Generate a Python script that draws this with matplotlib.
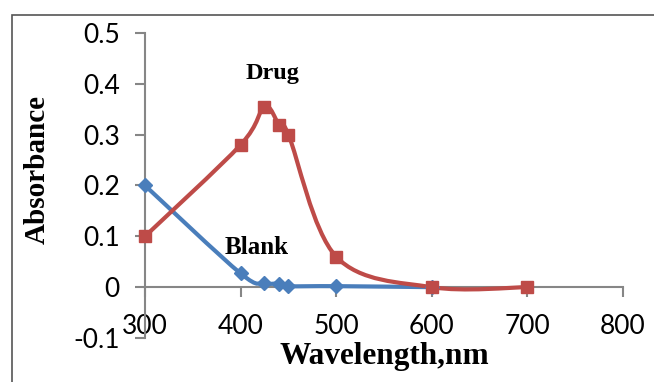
import matplotlib.pyplot as plt
import numpy as np
from matplotlib.path import Path
from matplotlib.patches import PathPatch, Rectangle

# data
drug_x = [300, 400, 425, 440, 450, 500, 600, 700]
drug_y = [0.10, 0.28, 0.355, 0.32, 0.30, 0.06, 0.0, 0.0]
blank_x = [300, 400, 425, 440, 450, 500, 600]
blank_y = [0.20, 0.027, 0.008, 0.007, 0.002, 0.002, 0.0]

x_ticks = [300, 400, 500, 600, 700, 800]
y_ticks = [-0.1, 0, 0.1, 0.2, 0.3, 0.4, 0.5]

blue = '#4A7EBB'
red = '#BE4B48'
grey = '#868686'


def smooth_path(xs, ys):
    # Excel-like smoothed line: cubic bezier through points (Catmull-Rom)
    p = np.column_stack([xs, ys]).astype(float)
    verts = [p[0]]
    codes = [Path.MOVETO]
    n = len(p)
    for i in range(n - 1):
        p0 = p[i - 1] if i > 0 else p[i]
        p3 = p[i + 2] if i + 2 < n else p[i + 1]
        c1 = p[i] + (p[i + 1] - p0) / 6
        c2 = p[i + 1] - (p3 - p[i]) / 6
        verts += [c1, c2, p[i + 1]]
        codes += [Path.CURVE4] * 3
    return Path(verts, codes)


fig = plt.figure(figsize=(6.54, 3.82), dpi=100)
ax = fig.add_axes([0.2217, 0.1152, 0.7309, 0.7984])

ax.add_patch(PathPatch(smooth_path(blank_x, blank_y), fill=False, ec=blue, lw=3, zorder=3))
ax.add_patch(PathPatch(smooth_path(drug_x, drug_y), fill=False, ec=red, lw=3, zorder=3))
ax.plot(blank_x, blank_y, ls='none', marker='D', ms=7.5, color=blue, zorder=4, clip_on=False)
ax.plot(drug_x, drug_y, ls='none', marker='s', ms=8, color=red, zorder=4, clip_on=False)

ax.set_xlim(300, 800)
ax.set_ylim(-0.1, 0.5)
ax.set_xticks(x_ticks)
ax.set_yticks(y_ticks)
ax.set_yticklabels(['-0.1', '0', '0.1', '0.2', '0.3', '0.4', '0.5'])

ax.spines['right'].set_color('none')
ax.spines['top'].set_color('none')
ax.spines['bottom'].set_position(('data', 0))
for s in ['left', 'bottom']:
    ax.spines[s].set_color(grey)
    ax.spines[s].set_linewidth(1.5)
ax.tick_params(axis='both', color=grey, width=1.5, length=7, direction='out',
               labelsize=19, labelcolor='black')
ax.tick_params(axis='x', pad=12)
ax.tick_params(axis='y', pad=11)
for lab in ax.get_xticklabels() + ax.get_yticklabels():
    lab.set_family('Lato')

ax.set_xlabel('Wavelength,nm', family='Liberation Serif', weight='bold', fontsize=22.5, va='center')
ax.xaxis.set_label_coords(0.5, -0.062)
ax.set_ylabel('Absorbance', family='Liberation Serif', weight='bold', fontsize=21, va='center')
ax.yaxis.set_label_coords(-0.226, 0.551)

ax.text(433, 0.421, 'Drug', family='Liberation Serif', weight='bold', fontsize=17.5,
        ha='center', va='center')
ax.text(417, 0.079, 'Blank', family='Liberation Serif', weight='bold', fontsize=18,
        ha='center', va='center')

# chart frame
fig.add_artist(Rectangle((12 / 654, -0.1), 1.2, 1.1 - 15 / 382, transform=fig.transFigure,
                         fill=False, ec='#555555', lw=1.2, clip_on=False))

fig.savefig('out.png', dpi=100)
